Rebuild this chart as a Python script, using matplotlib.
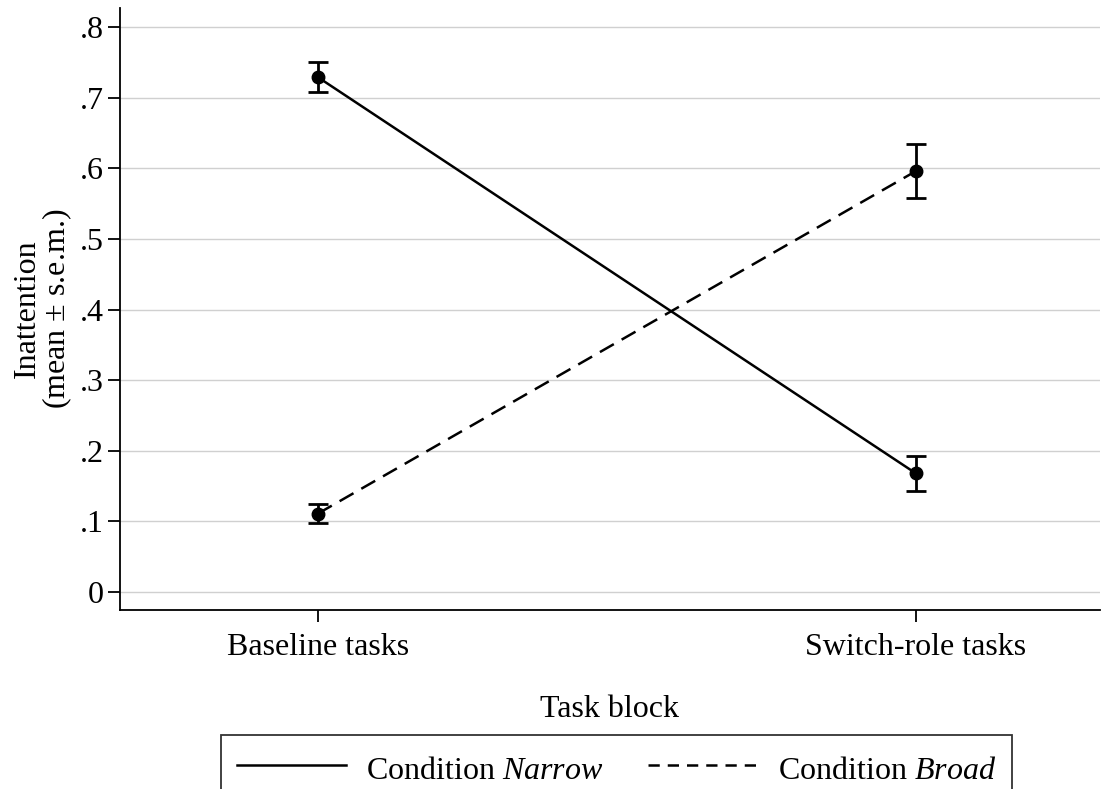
import matplotlib
matplotlib.use("Agg")
import matplotlib.pyplot as plt
from matplotlib.lines import Line2D

categories = ["Baseline tasks", "Switch-role tasks"]
narrow_mean = [0.729, 0.168]
narrow_sem = [0.021, 0.025]
broad_mean = [0.111, 0.596]
broad_sem = [0.014, 0.038]
yticks = [0, 0.1, 0.2, 0.3, 0.4, 0.5, 0.6, 0.7, 0.8]
ytick_labels = ["0", ".1", ".2", ".3", ".4", ".5", ".6", ".7", ".8"]

plt.rcParams['font.family'] = ['Liberation Serif', 'DejaVu Serif']
plt.rcParams['mathtext.fontset'] = 'custom'
plt.rcParams['mathtext.rm'] = 'Liberation Serif'
plt.rcParams['mathtext.it'] = 'Liberation Serif:italic'
fs = 23

fig = plt.figure(figsize=(11.06, 7.89), dpi=100)
ax = fig.add_axes([120/1106, 1-610/789, (1100-120)/1106, (610-8)/789])

x = list(range(len(categories)))
dash = (0, (6.4, 3.6))
ax.errorbar(x, narrow_mean, yerr=narrow_sem, color='black', lw=1.8, ls='-',
            marker='o', ms=9, capsize=7, capthick=2.0, elinewidth=2.0, zorder=3)
ax.errorbar(x, broad_mean, yerr=broad_sem, color='black', lw=1.8, ls=dash,
            marker='o', ms=9, capsize=7, capthick=2.0, elinewidth=2.0, zorder=3)

ax.set_xlim(-0.331, 1.308)
ax.set_ylim(-0.0255, 0.827)
ax.set_yticks(yticks)
ax.set_yticklabels(ytick_labels, fontsize=fs)
ax.set_xticks(x)
ax.set_xticklabels(categories, fontsize=fs)
ax.yaxis.grid(True, color='#d0d0d0', lw=1)
ax.set_axisbelow(True)
for s in ['top', 'right']:
    ax.spines[s].set_visible(False)
for s in ['left', 'bottom']:
    ax.spines[s].set_linewidth(1.3)
ax.tick_params(axis='y', length=8.5, width=1.3, direction='out', pad=3)
ax.tick_params(axis='x', length=8.5, width=1.3, direction='out', pad=8)
ax.set_xlabel("Task block", fontsize=fs, labelpad=24)
ax.set_ylabel("Inattention\n(mean $\\pm$ s.e.m.)", fontsize=fs, labelpad=4, linespacing=0.95)

h = [Line2D([], [], color='black', lw=1.8, ls='-'),
     Line2D([], [], color='black', lw=1.8, ls=(0, (4.5, 3.2)))]
leg = fig.legend(h, ['Condition $\\mathit{Narrow}$', 'Condition $\\mathit{Broad}$'],
                 ncol=2, loc='upper left', bbox_to_anchor=(221/1106, 1-735/789),
                 borderaxespad=0, handleheight=1.3,
                 fontsize=fs, frameon=True, fancybox=False, edgecolor='black',
                 handlelength=3.4, columnspacing=1.4, borderpad=0.5, handletextpad=0.65)
leg.get_frame().set_linewidth(1.3)
fig.savefig("out.png", dpi=100)
